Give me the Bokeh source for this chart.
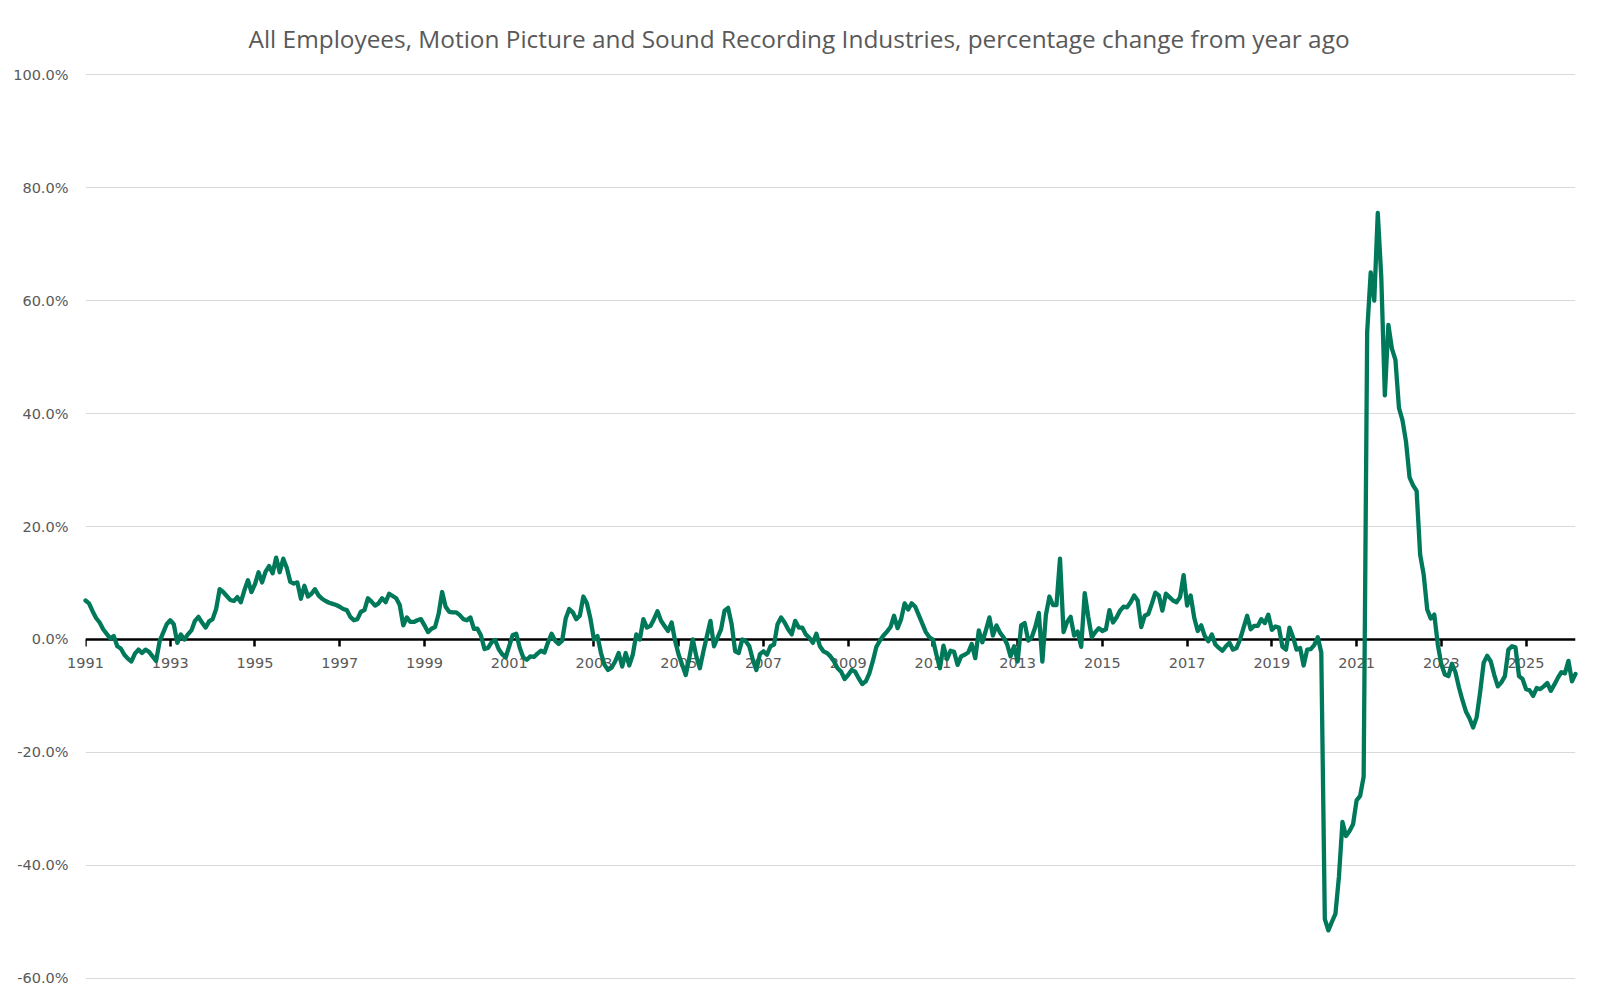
from bokeh.plotting import figure
from bokeh.models import Range1d, FixedTicker, ColumnDataSource, LinearAxis
from bokeh.embed import file_html
from bokeh.resources import INLINE

TITLE = "All Employees, Motion Picture and Sound Recording Industries, percentage change from year ago"
START_YEAR = 1991  # first month: January 1991, monthly data

# Year-over-year % change, monthly
yoy_1991_1995 = [
    6.9, 6.4, 5.0, 3.8, 3.0, 1.8, 1.0, 0.2, 0.6, -1.2, -1.6, -2.7,
    -3.4, -3.9, -2.5, -1.8, -2.4, -1.8, -2.2, -3.0, -3.8, -0.3, 1.2, 2.7,
    3.4, 2.7, -0.6, 0.9, 0.0, 0.9, 1.6, 3.3, 4.0, 3.0, 2.1, 3.2,
    3.6, 5.4, 8.9, 8.4, 7.7, 7.0, 6.8, 7.5, 6.6, 8.7, 10.5, 8.4,
    9.8, 11.9, 10.1, 12.0, 13.0, 11.7, 14.5, 11.9, 14.3, 12.7, 10.2, 9.9,
]
yoy_1996_2000 = [
    10.1, 7.2, 9.5, 7.6, 8.1, 8.9, 7.8, 7.2, 6.8, 6.5, 6.3, 6.1,
    5.8, 5.4, 5.2, 4.0, 3.4, 3.6, 4.9, 5.2, 7.3, 6.7, 6.0, 6.4,
    7.3, 6.6, 8.1, 7.7, 7.3, 6.1, 2.5, 3.9, 3.1, 3.1, 3.4, 3.6,
    2.5, 1.3, 1.9, 2.2, 4.5, 8.4, 5.8, 4.9, 4.8, 4.8, 4.3, 3.6,
    3.4, 3.9, 1.9, 1.9, 0.7, -1.7, -1.5, -0.5, -0.1, -1.7, -2.6, -3.2,
]
yoy_2001_2005 = [
    -1.2, 0.8, 1.0, -1.5, -3.2, -3.6, -3.0, -3.1, -2.5, -2.0, -2.3, -0.5,
    1.0, -0.2, -0.8, -0.2, 3.7, 5.4, 4.8, 3.6, 4.2, 7.6, 6.4, 3.7,
    0.0, 0.6, -2.4, -4.5, -5.4, -5.0, -3.9, -2.4, -4.8, -2.4, -4.6, -2.7,
    0.9, 0.0, 3.6, 2.1, 2.4, 3.6, 5.0, 3.3, 2.4, 1.5, 3.0, -0.3,
    -2.7, -4.5, -6.3, -3.3, 0.0, -3.0, -5.1, -2.1, 0.6, 3.3, -1.2, 0.3,
]
yoy_2006_2010 = [
    1.8, 5.1, 5.6, 2.7, -2.1, -2.4, 0.0, -0.3, -1.2, -3.6, -5.4, -2.6,
    -2.1, -2.7, -1.2, -0.9, 2.7, 3.9, 3.0, 1.8, 0.9, 3.3, 2.1, 2.1,
    0.9, 0.3, -0.6, 1.0, -1.2, -2.1, -2.4, -3.0, -3.9, -5.1, -5.7, -7.0,
    -6.3, -5.4, -5.7, -6.9, -7.9, -7.4, -6.0, -3.8, -1.3, -0.2, 0.7, 1.4,
    2.2, 4.2, 2.0, 3.6, 6.4, 5.3, 6.4, 5.8, 4.3, 2.8, 1.3, 0.4,
]
yoy_2011_2015 = [
    0.0, -2.7, -5.1, -1.1, -3.5, -2.0, -2.2, -4.5, -3.0, -2.7, -2.3, -0.8,
    -3.3, 1.6, -0.5, 1.6, 3.9, 0.7, 2.5, 1.2, 0.4, -0.8, -3.0, -1.2,
    -3.9, 2.5, 2.9, -0.2, 0.4, 2.2, 4.7, -3.9, 4.3, 7.6, 6.1, 6.1,
    14.3, 1.3, 3.1, 4.0, 0.7, 1.4, -1.3, 8.2, 4.0, 0.4, 1.3, 2.0,
    1.5, 1.8, 5.2, 3.0, 3.9, 5.1, 5.8, 5.7, 6.6, 7.8, 6.9, 2.2,
]
yoy_2016_2020 = [
    4.2, 4.5, 6.3, 8.3, 7.8, 5.1, 8.1, 7.5, 6.9, 6.6, 7.5, 11.4,
    6.0, 7.8, 3.9, 1.5, 2.5, 0.6, -0.3, 0.9, -0.9, -1.5, -2.0, -1.2,
    -0.6, -1.8, -1.5, 0.0, 2.1, 4.2, 1.8, 2.4, 2.4, 3.6, 2.9, 4.4,
    1.7, 2.3, 2.1, -1.3, -1.8, 2.1, 0.4, -1.8, -1.5, -4.6, -1.8, -1.7,
    -1.0, 0.4, -2.3, -49.5, -51.5, -50.0, -48.6, -42.0, -32.3, -34.8, -33.9, -32.7,
]
yoy_2021_2026 = [
    -28.5, -27.7, -24.3, 54.5, 65.0, 60.0, 75.5, 64.0, 43.2, 55.7, 51.5, 49.5,
    41.0, 38.8, 35.0, 28.7, 27.3, 26.3, 15.0, 11.5, 5.3, 3.7, 4.4, -0.9,
    -4.4, -6.2, -6.5, -4.3, -5.8, -8.5, -10.8, -12.8, -14.0, -15.6, -13.8, -9.3,
    -4.1, -2.9, -3.9, -6.3, -8.3, -7.6, -6.5, -1.8, -1.2, -1.4, -6.5, -7.0,
    -8.8, -9.0, -10.0, -8.6, -8.8, -8.3, -7.7, -9.1, -8.0, -6.8, -5.8, -6.0,
    -3.8, -7.4, -6.1,
]

x_tick_years = list(range(1991, 2026, 2))
x_tick_labels = [str(y) for y in x_tick_years]
y_ticks = [-60, -40, -20, 0, 20, 40, 60, 80, 100]
y_tick_labels = ["-60.0%", "-40.0%", "-20.0%", "0.0%", "20.0%", "40.0%", "60.0%", "80.0%", "100.0%"]

values = (yoy_1991_1995 + yoy_1996_2000 + yoy_2001_2005 + yoy_2006_2010
          + yoy_2011_2015 + yoy_2016_2020 + yoy_2021_2026)
xs = [START_YEAR + i / 12.0 for i in range(len(values))]
src = ColumnDataSource(dict(x=xs, y=values))

LINE_COLOR = "#00785A"
TEXT_COLOR = "#595959"

Y_MIN, Y_MAX = -60.2, 100.2
FRAME_TOP, FRAME_H = 73, 906

p = figure(width=1590, height=FRAME_TOP + FRAME_H + 12,
           x_range=Range1d(xs[0], xs[-1]), y_range=Range1d(Y_MIN, Y_MAX),
           output_backend="svg", toolbar_location=None,
           min_border_left=85, min_border_right=15,
           min_border_top=FRAME_TOP, min_border_bottom=12,
           background_fill_color="white", border_fill_color="white")

p.title.text = TITLE
p.title.align = "left"
p.title.offset = 163
p.title.text_font = "Open Sans"
p.title.text_font_size = "24.4px"
p.title.text_font_style = "normal"
p.title.text_color = TEXT_COLOR
p.title.standoff = 38

p.outline_line_color = None
p.xgrid.grid_line_color = None
p.ygrid.ticker = FixedTicker(ticks=y_ticks)
p.ygrid.grid_line_color = "#D9D9D9"
p.ygrid.grid_line_width = 1

# y axis
p.yaxis.ticker = FixedTicker(ticks=y_ticks)
p.yaxis.major_label_overrides = dict(zip(y_ticks, y_tick_labels))
p.yaxis.axis_line_color = None
p.yaxis.major_tick_line_color = None
p.yaxis.major_tick_in = 0
p.yaxis.major_tick_out = 0
p.yaxis.minor_tick_line_color = None
p.yaxis.major_label_text_font = "DejaVu Sans"
p.yaxis.major_label_text_font_size = "14.5px"
p.yaxis.major_label_text_color = TEXT_COLOR
p.yaxis.major_label_standoff = 17

# bottom x axis: only its labels, pulled up to sit just under the y = 0 line
zero_px = FRAME_H * (Y_MAX - 0) / (Y_MAX - Y_MIN)
label_gap = 18
p.xaxis.ticker = FixedTicker(ticks=x_tick_years)
p.xaxis.major_label_overrides = dict(zip(x_tick_years, x_tick_labels))
p.xaxis.axis_line_color = None
p.xaxis.major_tick_line_color = None
p.xaxis.major_tick_in = 0
p.xaxis.major_tick_out = 0
p.xaxis.minor_tick_line_color = None
p.xaxis.minor_tick_in = 0
p.xaxis.minor_tick_out = 0
p.xaxis.major_label_text_font = "DejaVu Sans"
p.xaxis.major_label_text_font_size = "14.5px"
p.xaxis.major_label_text_color = TEXT_COLOR
p.xaxis.major_label_standoff = int(round(zero_px + label_gap - FRAME_H))

# axis line and tick marks drawn at y = 0
zero_axis = LinearAxis(fixed_location=0, ticker=FixedTicker(ticks=x_tick_years))
zero_axis.major_label_overrides = {yr: "" for yr in x_tick_years}
zero_axis.axis_line_color = "black"
zero_axis.axis_line_width = 2.5
zero_axis.major_tick_line_color = "black"
zero_axis.major_tick_line_width = 2.5
zero_axis.major_tick_in = 0
zero_axis.major_tick_out = 7
zero_axis.minor_tick_line_color = None
p.add_layout(zero_axis, "below")

p.line("x", "y", source=src, line_color=LINE_COLOR, line_width=4.3,
       line_join="round", line_cap="round", level="overlay")

open("out.html", "w").write(file_html(p, INLINE))
